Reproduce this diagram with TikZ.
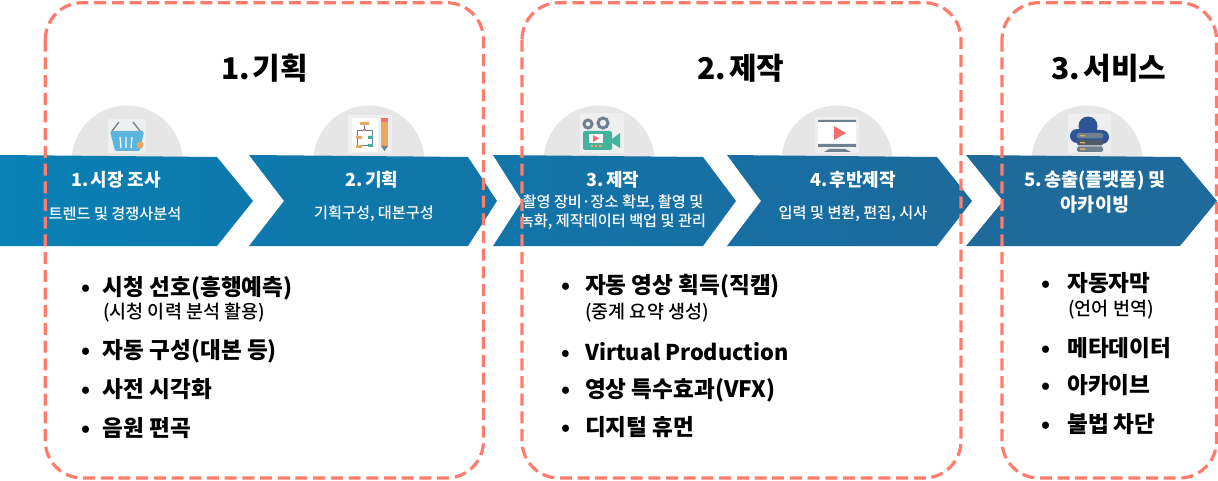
\documentclass[tikz,border=0pt]{standalone}
\usepackage{fontspec}
\setmainfont{Noto Sans CJK KR}
\newfontfamily\mediumfont{Noto Sans CJK KR Medium}
\definecolor{dashred}{HTML}{FF7B6B}
\definecolor{halfgray}{HTML}{E6E6E6}
\definecolor{iconbg}{HTML}{EFEFEF}
\definecolor{flowa}{HTML}{0A80B4}
\definecolor{flowb}{HTML}{0D79AC}
\definecolor{flowc}{HTML}{1175A8}
\definecolor{flowd}{HTML}{176FA3}
\definecolor{flowe}{HTML}{1D6A9B}
\definecolor{iconblue}{HTML}{5BB5DC}
\definecolor{icongreen}{HTML}{45B29D}
\definecolor{icongray}{HTML}{6F8090}
\definecolor{icondark}{HTML}{4F5B68}
\definecolor{iconorange}{HTML}{E8A860}
\definecolor{iconred}{HTML}{F36F6F}
\definecolor{iconnavy}{HTML}{2F5597}
\tikzset{
  bigtitle/.style={anchor=base, font=\bfseries\fontsize{30}{34}\selectfont, inner sep=0pt},
  steptitle/.style={text=white, align=center, font=\bfseries\fontsize{18}{25}\selectfont, inner sep=0pt},
  stepsub/.style={text=white, align=center, font=\mediumfont\fontsize{15.2}{19}\selectfont, inner sep=0pt},
  listitem/.style={anchor=base west, inner sep=0pt, font=\bfseries\fontsize{22.6}{26}\selectfont},
  listnote/.style={anchor=base west, inner sep=0pt, font=\mediumfont\fontsize{18.5}{22}\selectfont},
  groupbox/.style={draw=dashred, line width=3.2pt, dash pattern=on 12pt off 5.7pt, rounded corners=37pt}
}
\newcommand{\itemdot}[1]{\llap{•\hspace{#1pt}}}
\begin{document}
\begin{tikzpicture}[x=1pt, y=-1pt]
        \useasboundingbox (0,0) rectangle (1218,481);
        % half circles behind the arrows
        \foreach \cx in {127,369,599,837,1087}
            \fill[halfgray] (\cx,161) circle (55.5pt);
        % arrows
        \foreach \xa/\xb/\xc/\xd/\lc/\rc in {0/0/217/253/flowa/flowb, 249/284/468/497/flowb/flowc, 493/522/703/736/flowc/flowd, 727/761/937/972/flowd/flowe, 966/1003/1180/1217/flowe/flowe}
            \shade[left color=\lc, right color=\rc] (\xa,155) -- (\xc,157) -- (\xd,201) -- (\xc,246) -- (\xa,246) -- (\xb,201) -- cycle;
        % basket
        \fill[iconbg] (108,119) rectangle (146,153);
        \draw[icongray, line width=1.3pt] (112,131) -- (119,122) (140,131) -- (133,122);
        \fill[iconblue, rounded corners=1.5pt] (110,131) -- (144,131) -- (140,151) -- (115,151) -- cycle;
        \draw[white, line width=1.2pt] (120,137) -- (121,148) (126,137) -- (126,148) (132,137) -- (131,148);
        \fill[iconorange] (140,145) circle (3.5pt);
        % flow chart and pencil
        \fill[iconbg] (348,115) rectangle (392,153);
        \fill[white] (352,118) rectangle (378,152);
        \draw[icongray, line width=0.8pt] (364,123) -- (364,130) (357,130) rectangle (372,145);
        \fill[iconorange] (360,122) rectangle (369,125) (356,136) rectangle (362,139) (356,145) rectangle (362,148);
        \fill[icongreen] (368,136) rectangle (373,139) (368,144) rectangle (373,147);
        \fill[iconred] (363,129) rectangle (366,131);
        \fill[iconorange] (381,122) rectangle (388,146);
        \fill[iconred] (381,118) rectangle (388,122);
        \fill[icongray] (381,146) -- (388,146) -- (384.5,151) -- cycle;
        % camera
        \fill[iconbg] (580,113) rectangle (624,153);
        \draw[icongray, line width=3pt] (588,124) circle (4pt) (603,123) circle (5pt);
        \fill[icongreen, rounded corners=2pt] (583,131) rectangle (612,150);
        \fill[icongreen] (612,139) -- (620,133) -- (620,148) -- (612,143) -- cycle;
        \fill[white] (589,134) rectangle (603,143);
        \fill[iconred] (593,135) -- (593,142) -- (599,138.5) -- cycle;
        \fill[iconorange] (591,145) rectangle (593,147) (595,145) rectangle (597,147) (599,145) rectangle (601,147);
        % monitor
        \fill[iconbg] (815,117) rectangle (859,153);
        \fill[white] (818,122) rectangle (856,144);
        \fill[icongray] (818,120) rectangle (856,122) (818,144) rectangle (856,147);
        \fill[icongray] (824,152) -- (829,149) -- (845,149) -- (851,152) -- cycle;
        \fill[iconred] (834,126) -- (834,140) -- (846,133) -- cycle;
        % cloud and servers
        \fill[iconbg] (1068,114) rectangle (1111,153);
        \fill[iconnavy] (1088,126) circle (9.5pt) (1077,136) circle (7pt) (1102,137) circle (7pt) (1077,130) rectangle (1102,144);
        \foreach \sy/\sc in {133/icongray,140/icondark,146.5/icongray}
            \fill[\sc, rounded corners=1.5pt] (1077,\sy) rectangle +(26,5.5);
        \fill[iconorange] (1080,135) rectangle (1085,136.5) (1080,142) rectangle (1085,143.5) (1080,148.5) rectangle (1085,150);
        % titles
        \node[bigtitle] (plan) at (264.5,80) {1.\hspace{3pt}기획};
        \node[bigtitle] (make) at (741,80) {2.\hspace{3pt}제작};
        \node[bigtitle] (serv) at (1109,80) {3.\hspace{3pt}서비스};
        % arrow labels
        \node[steptitle] (s1) at (116,180) {1.\hspace{2pt}시장 조사};
        \node[stepsub] (s1sub) at (115,214) {트렌드 및 경쟁사분석};
        \node[steptitle] (s2) at (372,180) {2.\hspace{2pt}기획};
        \node[stepsub] (s2sub) at (374,214) {기획구성, 대본구성};
        \node[steptitle] (s3) at (613,180) {3.\hspace{2pt}제작};
        \node[stepsub] (s3sub) at (613,212.5) {촬영 장비·장소 확보, 촬영 및\\녹화, 제작데이터 백업 및 관리};
        \node[steptitle] (s4) at (853,180) {4.\hspace{2pt}후반제작};
        \node[stepsub] (s4sub) at (853,214) {입력 및 변환, 편집, 시사};
        \node[steptitle, font=\bfseries\fontsize{18.6}{25}\selectfont] (s5) at (1095,192.5) {5.\hspace{2pt}송출(플랫폼) 및\\아카이빙};
        % lists
        \node[listitem] (a1) at (102.7,295) {\itemdot{12.5}시청 선호(흥행예측)};
        \node[listnote] (a1n) at (103,318) {(시청 이력 분석 활용)};
        \node[listitem] (a2) at (102.7,358) {\itemdot{12.5}자동 구성(대본 등)};
        \node[listitem] (a3) at (102.7,397) {\itemdot{12.5}사전 시각화};
        \node[listitem] (a4) at (102.7,436) {\itemdot{12.5}음원 편곡};
        \node[listitem] (b1) at (585,293) {\itemdot{15}자동 영상 획득(직캠)};
        \node[listnote] (b1n) at (585,318) {(중계 요약 생성)};
        \node[listitem, font=\bfseries\fontsize{21.7}{26}\selectfont] (b2) at (585,360) {\itemdot{15}Virtual Production};
        \node[listitem] (b3) at (585,397) {\itemdot{15}영상 특수효과(VFX)};
        \node[listitem] (b4) at (585,435) {\itemdot{15}디지털 휴먼};
        \node[listitem] (c1) at (1067,291) {\itemdot{17}자동자막};
        \node[listnote] (c1n) at (1068,315) {(언어 번역)};
        \node[listitem] (c2) at (1067,356) {\itemdot{17}메타데이터};
        \node[listitem] (c3) at (1067,393) {\itemdot{17}아카이브};
        \node[listitem] (c4) at (1067,432) {\itemdot{17}불법 차단};
        % dashed groups
        \draw[groupbox] (45.3,2.7) rectangle (483.5,478);
        \draw[groupbox] (522,2.7) rectangle (961,478);
        \draw[groupbox] (1002,2.7) rectangle (1216.5,478);
    \end{tikzpicture}
\end{document}
